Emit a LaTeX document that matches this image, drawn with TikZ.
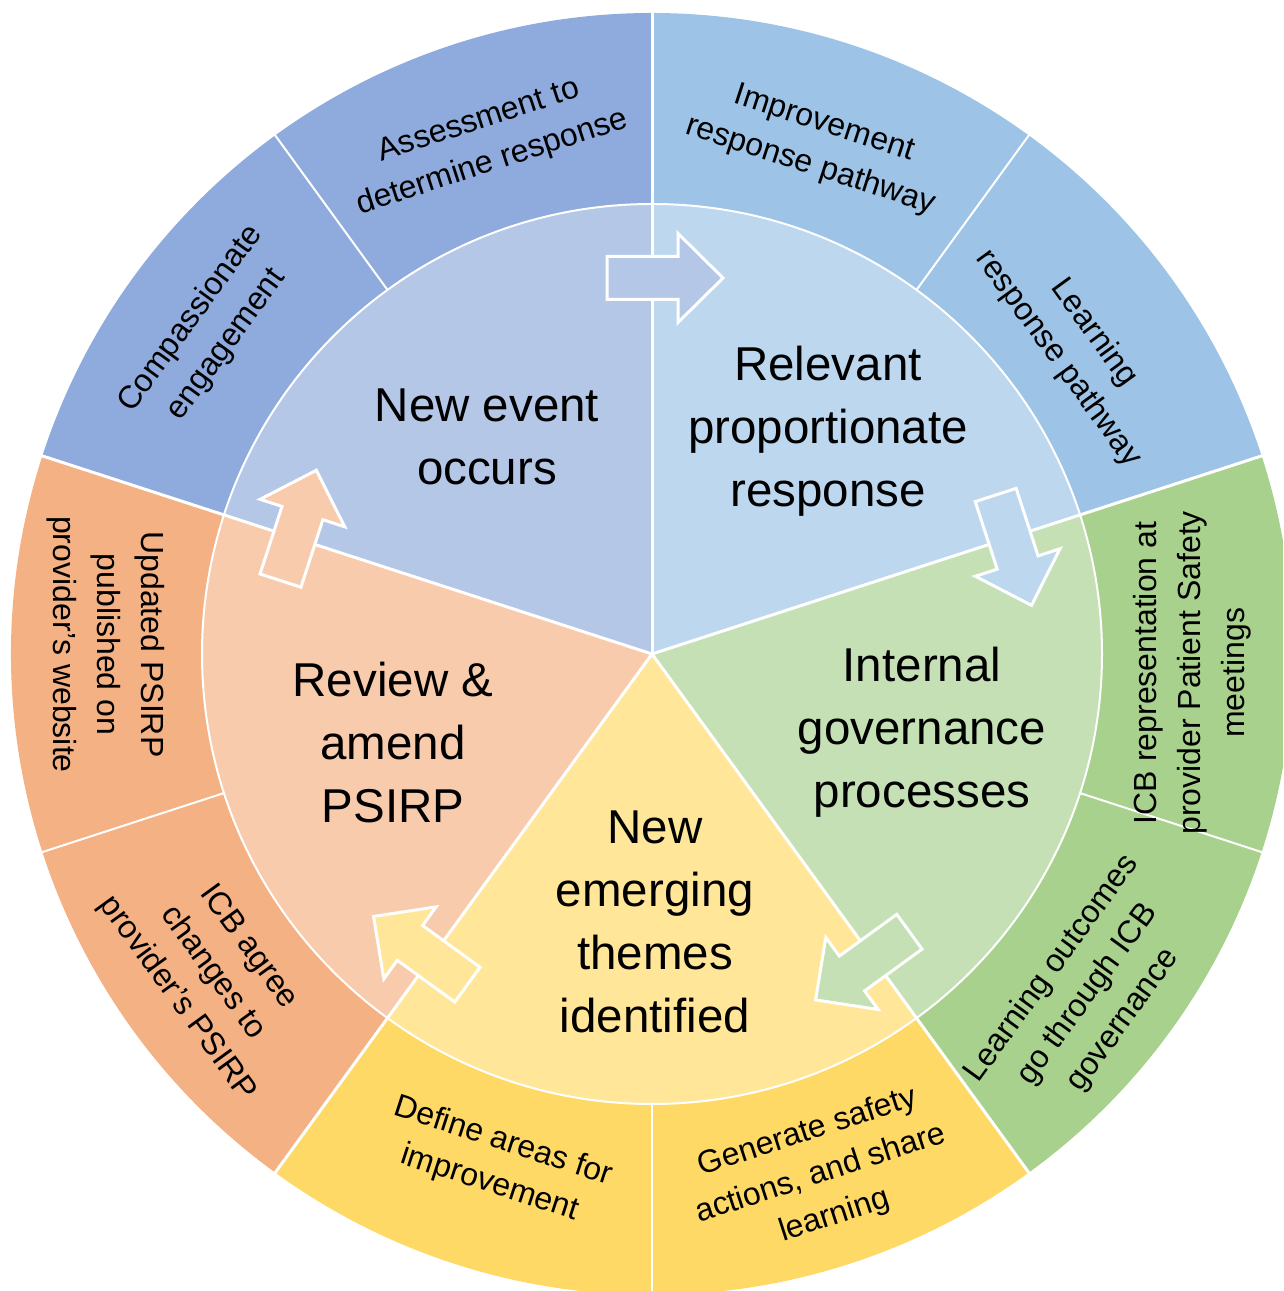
\documentclass[tikz,border=0pt]{standalone}
\usepackage{fontspec}
\setmainfont{Liberation Sans}
\definecolor{oBlue}{HTML}{8FAADC}
\definecolor{iBlue}{HTML}{B4C7E7}
\definecolor{oSky}{HTML}{9DC3E6}
\definecolor{iSky}{HTML}{BDD7EE}
\definecolor{oGreen}{HTML}{A9D18E}
\definecolor{iGreen}{HTML}{C5E0B4}
\definecolor{oYellow}{HTML}{FFD966}
\definecolor{iYellow}{HTML}{FFE699}
\definecolor{oOrange}{HTML}{F4B183}
\definecolor{iOrange}{HTML}{F8CBAD}
\newcommand\wheelarrow[2]{%
  \begin{scope}[rotate=#1]
    \filldraw[arrowbox,fill=#2] (-45,354.5) -- (26,354.5) -- (26,331.5) -- (71,376) -- (26,420.5) -- (26,397.5) -- (-45,397.5) -- cycle;
  \end{scope}}
\begin{document}
\begin{tikzpicture}[x=1pt,y=1pt,
  sep/.style={white,line width=3pt},
  subsep/.style={white,line width=2pt},
  arrowbox/.style={draw=white,line width=3pt,line join=miter},
  outertxt/.style={align=center,font=\fontsize{32}{44}\selectfont,inner sep=0pt},
  innertxt/.style={align=center,font=\fontsize{47.5}{63}\selectfont,inner sep=0pt}]
\useasboundingbox (0,0) rectangle (1283,1291);
\clip (0,0) rectangle (1283,1291);
\begin{scope}[shift={(652,637)}]
  % outer ring
  \fill[oBlue]   (0,0) -- (90:641)   arc[start angle=90,  end angle=162, radius=641] -- cycle;
  \fill[oSky]    (0,0) -- (18:641)   arc[start angle=18,  end angle=90,  radius=641] -- cycle;
  \fill[oGreen]  (0,0) -- (-54:641)  arc[start angle=-54, end angle=18,  radius=641] -- cycle;
  \fill[oYellow] (0,0) -- (-126:641) arc[start angle=-126,end angle=-54, radius=641] -- cycle;
  \fill[oOrange] (0,0) -- (162:641)  arc[start angle=162, end angle=234, radius=641] -- cycle;
  % inner pie
  \fill[iBlue]   (0,0) -- (90:450)   arc[start angle=90,  end angle=162, radius=450] -- cycle;
  \fill[iSky]    (0,0) -- (18:450)   arc[start angle=18,  end angle=90,  radius=450] -- cycle;
  \fill[iGreen]  (0,0) -- (-54:450)  arc[start angle=-54, end angle=18,  radius=450] -- cycle;
  \fill[iYellow] (0,0) -- (-126:450) arc[start angle=-126,end angle=-54, radius=450] -- cycle;
  \fill[iOrange] (0,0) -- (162:450)  arc[start angle=162, end angle=234, radius=450] -- cycle;
  % separators
  \draw[subsep] (0,0) circle[radius=450];
  \foreach \a in {90,18,-54,-126,162} \draw[sep] (0,0) -- (\a:650);
  \foreach \a in {126,54,-18,-90,198} \draw[subsep] (\a:450) -- (\a:650);
  % block arrows
  \wheelarrow{0}{iBlue}
  \wheelarrow{-72}{iSky}
  \wheelarrow{-144}{iGreen}
  \wheelarrow{-216}{iYellow}
  \wheelarrow{72}{iOrange}
  % outer texts
  \node[outertxt, rotate=18]  (o1)  at (108:538) {Assessment to\\determine response};
  \node[outertxt, rotate=54]  (o2)  at (144:548) {Compassionate\\engagement};
  \node[outertxt, rotate=-18] (o3)  at (72:535)  {Improvement\\response pathway};
  \node[outertxt, rotate=-54] (o4)  at (36:524)  {Learning\\response pathway};
  \node[outertxt, rotate=90]  (o5)  at (-2:541)  {ICB representation at\\provider Patient Safety\\meetings};
  \node[outertxt, rotate=54]  (o6)  at (-38:553) {Learning outcomes\\go through ICB\\governance};
  \node[outertxt, rotate=18]  (o7)  at (-72:547) {Generate safety\\actions, and share\\learning};
  \node[outertxt, rotate=-18] (o8)  at (-107:532) {Define areas for\\improvement};
  \node[outertxt, rotate=-54] (o9)  at (216:543) {ICB agree\\changes to\\provider’s PSIRP};
  \node[outertxt, rotate=-90] (o10) at (179:546) {Updated PSIRP\\published on\\provider’s website};
\end{scope}
% inner texts
\node[innertxt] (i1) at (487,854) {New event\\occurs};
\node[innertxt] (i2) at (828,860) {Relevant\\proportionate\\response};
\node[innertxt] (i3) at (922,559) {Internal\\governance\\processes};
\node[innertxt] (i4) at (655,369) {New\\emerging\\themes\\identified};
\node[innertxt] (i5) at (393,548) {Review \&\\amend\\PSIRP};
\end{tikzpicture}
\end{document}
